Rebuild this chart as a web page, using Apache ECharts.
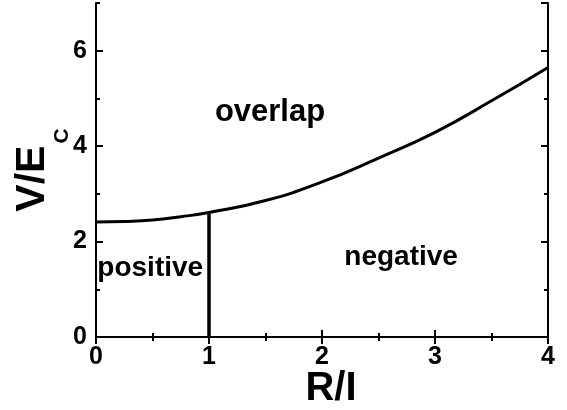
<!DOCTYPE html>
<html>
<head>
<meta charset="utf-8">
<script src="https://cdn.jsdelivr.net/npm/echarts@6/dist/echarts.min.js"></script>
<style>
  html, body { margin: 0; padding: 0; background: #fff; }
  #content { width: 567px; height: 410px; }
</style>
</head>
<body>
<div id="content"></div>
<script>
// boundary between overlap region and the rest
var ratioR = [0, 0.25, 0.5, 0.75, 1, 1.5, 2, 2.5, 3, 3.5, 4];
var voltage = [2.41, 2.42, 2.45, 2.52, 2.61, 2.86, 3.25, 3.75, 4.29, 4.95, 5.65];

// vertical line at R/I = 1
var splitR = [1, 1];
var splitV = [0, 2.61];

// region names and where they sit
var regionNames = ['overlap', 'negative', 'positive'];
var regionR = [1.54, 2.7, 0.48];
var regionV = [4.7, 1.68, 1.44];

var xTicks = [0, 1, 2, 3, 4];
var yTicks = [0, 2, 4, 6];

!(function() {
    var element = document.getElementById('content');
    var myChart = echarts.init(element);
    var font = 'Liberation Sans, Arial, sans-serif';
    // "overlap" is printed a bit larger than the other two
    var labelSize = { overlap: 31 };

    var curve = [];
    for (var i = 0; i < ratioR.length; i++) {
        curve.push([ratioR[i], voltage[i]]);
    }
    var split = [];
    for (var j = 0; j < splitR.length; j++) {
        split.push([splitR[j], splitV[j]]);
    }
    var regions = [];
    for (var k = 0; k < regionNames.length; k++) {
        regions.push({
            name: regionNames[k],
            value: [regionR[k], regionV[k]],
            label: { fontSize: labelSize[regionNames[k]] || 28 }
        });
    }

    var lineStyle = { color: '#000', width: 2 };

    function xAxis(pos, labels) {
        return {
            type: 'value',
            position: pos,
            min: xTicks[0],
            max: xTicks[xTicks.length - 1],
            interval: 1,
            splitLine: { show: false },
            axisLine: { show: true, lineStyle: lineStyle },
            axisTick: { show: true, inside: true, length: 7, lineStyle: lineStyle },
            minorTick: { show: true, splitNumber: 2, length: 4, lineStyle: lineStyle },
            axisLabel: {
                show: labels,
                margin: 8,
                color: '#000',
                fontFamily: font,
                fontWeight: 'bold',
                fontSize: 25
            }
        };
    }

    function yAxis(pos, major, labels) {
        return {
            type: 'value',
            position: pos,
            min: yTicks[0],
            max: 7,
            interval: major ? 2 : 1,
            splitLine: { show: false },
            axisLine: { show: major, lineStyle: lineStyle },
            axisTick: { show: true, inside: true, length: major ? 7 : 4, lineStyle: lineStyle },
            axisLabel: {
                show: labels,
                showMaxLabel: false,
                margin: 9,
                color: '#000',
                fontFamily: font,
                fontWeight: 'bold',
                fontSize: 25
            }
        };
    }

    var bottom = xAxis('bottom', true);
    bottom.name = 'R/I';
    bottom.nameLocation = 'middle';
    bottom.nameGap = 32;
    bottom.nameMoveOverlap = false;
    bottom.nameTextStyle = { color: '#000', fontFamily: font, fontWeight: 'bold', fontSize: 40, padding: [0, 0, 0, 18] };

    var left = yAxis('left', true, true);
    left.name = '{a|V/E}{b|C}';
    left.nameLocation = 'middle';
    left.nameRotate = 90;
    left.nameGap = 23;
    left.nameMoveOverlap = false;
    left.nameTextStyle = {
        rich: {
            a: { color: '#000', fontFamily: font, fontWeight: 'bold', fontSize: 41, lineHeight: 80 },
            b: { color: '#000', fontFamily: font, fontWeight: 'bold', fontSize: 21, lineHeight: 72, verticalAlign: 'bottom', padding: [0, 0, 0, 2] }
        }
    };

    var option = {
        animation: false,
        grid: { left: 96, right: 19, top: 3, bottom: 73, outerBoundsMode: 'none', containLabel: false },
        xAxis: [bottom, xAxis('top', false)],
        yAxis: [left, yAxis('left', false, false), yAxis('right', true, false), yAxis('right', false, false)],
        series: [{
            type: 'line',
            smooth: true,
            symbol: 'none',
            lineStyle: { color: '#000', width: 3 },
            data: curve
        }, {
            type: 'line',
            symbol: 'none',
            lineStyle: { color: '#000', width: 3.5 },
            data: split
        }, {
            type: 'scatter',
            symbolSize: 0,
            itemStyle: { color: 'rgba(0,0,0,0)', opacity: 1 },
            label: {
                show: true,
                position: 'inside',
                formatter: '{b}',
                color: '#000',
                opacity: 1,
                fontFamily: font,
                fontWeight: 'bold',
                fontSize: 28
            },
            data: regions
        }]
    };
    myChart.setOption(option);
})();
</script>
</body>
</html>
